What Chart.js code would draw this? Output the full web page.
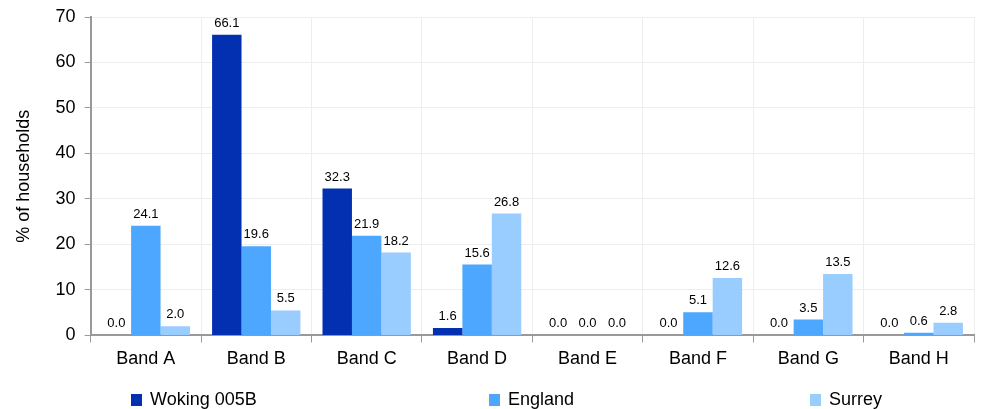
<!DOCTYPE html>
<html>
<head>
<meta charset="utf-8">
<script src="https://cdn.jsdelivr.net/npm/chart.js@4.4.0/dist/chart.umd.min.js"></script>
<style>
    body { margin: 0; background: #fff; font-family: "Liberation Sans", Arial, sans-serif; }
    #wrap { position: relative; width: 981px; height: 409px; }
    .leg { position: absolute; top: 389px; font-size: 18px; color: #000; white-space: nowrap; }
    .leg span { display: inline-block; width: 11px; height: 12px; margin-right: 8px; vertical-align: -1px; }
</style>
</head>
<body>
<div id="wrap">
    <canvas id="chart_bands" width="981" height="409"></canvas>
</div>
<script>
var bands = ['Band A', 'Band B', 'Band C', 'Band D', 'Band E', 'Band F', 'Band G', 'Band H'];
var woking = [0.0, 66.1, 32.3, 1.6, 0.0, 0.0, 0.0, 0.0];
var england = [24.1, 19.6, 21.9, 15.6, 0.0, 5.1, 3.5, 0.6];
var surrey = [2.0, 5.5, 18.2, 26.8, 0.0, 12.6, 13.5, 2.8];
var seriesNames = ['Woking 005B', 'England', 'Surrey'];
var colours = ['#0230b0', '#4da7ff', '#99ccff'];
var legendX = [131, 489, 810];

// html legend, spread out along the bottom like the original
var wrap = document.getElementById('wrap');
for (var i = 0; i < seriesNames.length; i++) {
    var d = document.createElement('div');
    d.className = 'leg';
    d.style.left = legendX[i] + 'px';
    d.innerHTML = "<span style='background:" + colours[i] + "'></span>" + seriesNames[i];
    wrap.appendChild(d);
}

var valueLabels = {
    id: 'valueLabels',
    afterDatasetsDraw: function (chart) {
        var ctx = chart.ctx;
        ctx.save();
        ctx.font = '13px "Liberation Sans", Arial, sans-serif';
        ctx.fillStyle = '#000';
        ctx.textAlign = 'center';
        ctx.textBaseline = 'bottom';
        chart.data.datasets.forEach(function (ds, di) {
            chart.getDatasetMeta(di).data.forEach(function (bar, j) {
                ctx.fillText(ds.data[j].toFixed(1), bar.x, bar.y - 5);
            });
        });
        ctx.restore();
    }
};

var ctx = document.getElementById('chart_bands');
new Chart(ctx, {
    type: 'bar',
    data: {
        labels: bands,
        datasets: [
            { label: seriesNames[0], data: woking, backgroundColor: colours[0] },
            { label: seriesNames[1], data: england, backgroundColor: colours[1] },
            { label: seriesNames[2], data: surrey, backgroundColor: colours[2] }
        ]
    },
    plugins: [valueLabels],
    options: {
        responsive: false,
        animation: false,
        layout: { padding: { top: 17, right: 7, bottom: 33, left: 13 } },
        datasets: { bar: { categoryPercentage: 0.8, barPercentage: 1.0 } },
        plugins: {
            legend: { display: false },
            tooltip: { enabled: false }
        },
        scales: {
            x: {
                grid: { color: '#eeeeee', tickColor: '#999999', tickLength: 7 },
                border: { color: '#999999', width: 2 },
                ticks: { color: '#000', font: { size: 18, family: '"Liberation Sans", Arial' }, padding: 6 }
            },
            y: {
                min: 0,
                max: 70,
                afterFit: function (scale) {
                    scale.paddingTop = 0;
                },
                ticks: { stepSize: 10, color: '#000', font: { size: 18, family: '"Liberation Sans", Arial' }, padding: 9 },
                grid: { color: '#eeeeee', tickColor: '#999999', tickLength: 6 },
                border: { color: '#999999', width: 2 },
                title: {
                    display: true,
                    text: '% of households',
                    color: '#000',
                    font: { size: 18, family: '"Liberation Sans", Arial' },
                    padding: { top: 0, bottom: 12 }
                }
            }
        }
    }
});
</script>
</body>
</html>
